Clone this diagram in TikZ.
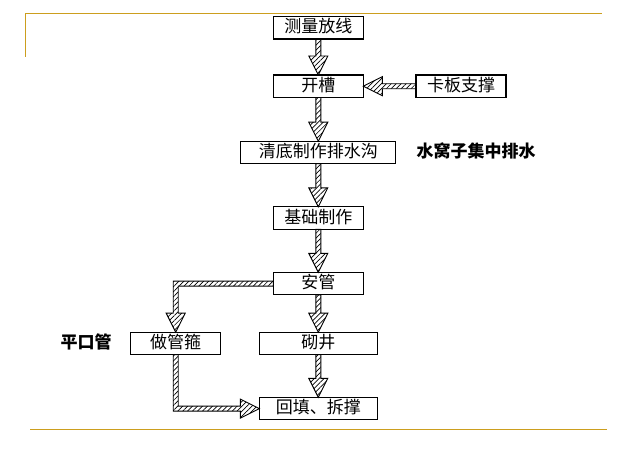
\documentclass[tikz,border=0pt]{standalone}
\usepackage{fontspec}
\newfontfamily\cjk{Noto Sans CJK SC}
\usetikzlibrary{positioning,calc,patterns.meta}
\definecolor{gold}{RGB}{204,158,30}

\begin{document}
\begin{tikzpicture}[x=1pt,y=-1pt]
		\useasboundingbox (0,0) rectangle (633,475);
		\tikzstyle{block} = [rectangle, draw, line width=1.2pt, minimum width=90pt, minimum height=22.5pt, text height=13pt, text depth=3pt, inner sep=0pt, outer sep=0pt, font=\cjk\fontsize{17}{20}\selectfont]
		\tikzstyle{note} = [draw=none, inner sep=0pt, outer sep=0pt, text height=13pt, text depth=3pt, font=\cjk\bfseries\fontsize{17}{20}\selectfont]
		\tikzstyle{rule} = [draw=gold, line width=1.3pt]
		\tikzstyle{hatch} = [draw, line width=0.9pt, line join=miter, pattern={Lines[angle=45,distance=3.5pt,line width=0.7pt]}]
		\tikzstyle{flow} = [hatch, to path={let \p1=(\tikztostart), \p2=(\tikztotarget), \p3=($(\p2)!19pt!(\p1)$) in
			($(\p1)!2.5pt!90:(\p2)$) -- ($(\p3)!2.5pt!90:(\p2)$) -- ($(\p3)!9.5pt!90:(\p2)$) -- (\p2)
			-- ($(\p3)!9.5pt!-90:(\p2)$) -- ($(\p3)!2.5pt!-90:(\p2)$) -- ($(\p1)!2.5pt!-90:(\p2)$) -- cycle}]

		\draw [rule] (25.3,56.7) -- (25.3,13.3) -- (601.7,13.3);
		\draw [rule] (30,429.3) -- (606.7,429.3);

		\node [block] (celiang) at (318.3,27.7) {测量放线};
		\node [block, below=36pt of celiang] (kaicao) {开槽};
		\node [block, right=52.7pt of kaicao] (kaban) {卡板支撑};
		\node [block, minimum width=155pt, below=43.7pt of kaicao] (qingdi) {清底制作排水沟};
		\node [note, right=20.7pt of qingdi] (shuiwo) {水窝子集中排水};
		\node [block, below=43.2pt of qingdi] (jichu) {基础制作};
		\node [block, below=43pt of jichu] (anguan) {安管};
		\node [block, minimum width=118pt, below=37.3pt of anguan] (qijing) {砌井};
		\node [block, left=38.6pt of qijing] (guangu) {做管箍};
		\node [note, left=19pt of guangu] (pingkou) {平口管};
		\node [block, minimum width=118pt, below=42.7pt of qijing] (huitian) {回填、拆撑};

		\path [flow] (celiang.south) to (kaicao.north);
		\path [flow] (kaban.west) to (kaicao.east);
		\path [flow] (kaicao.south) to (qingdi.north);
		\path [flow] (qingdi.south) to (jichu.north);
		\path [flow] (jichu.south) to (anguan.north);
		\path [flow] (anguan.south) to (qijing.north);
		\path [flow] (qijing.south) to (huitian.north);

		% bent ones
		\path [hatch] let \p1=(anguan.west), \p2=(guangu.north) in
			(\x1,\y1+2.5pt) -- (\x2-2.5pt,\y1+2.5pt) -- (\x2-2.5pt,\y2+19pt) -- (\x2-9.5pt,\y2+19pt) -- (\x2,\y2)
			-- (\x2+9.5pt,\y2+19pt) -- (\x2+2.5pt,\y2+19pt) -- (\x2+2.5pt,\y1-2.5pt) -- (\x1,\y1-2.5pt) -- cycle;
		\path [hatch] let \p1=(guangu.south), \p2=(huitian.west) in
			(\x1-2.5pt,\y1) -- (\x1-2.5pt,\y2-2.5pt) -- (\x2-19pt,\y2-2.5pt) -- (\x2-19pt,\y2-9.5pt) -- (\x2,\y2)
			-- (\x2-19pt,\y2+9.5pt) -- (\x2-19pt,\y2+2.5pt) -- (\x1+2.5pt,\y2+2.5pt) -- (\x1+2.5pt,\y1) -- cycle;
	\end{tikzpicture}
\end{document}
